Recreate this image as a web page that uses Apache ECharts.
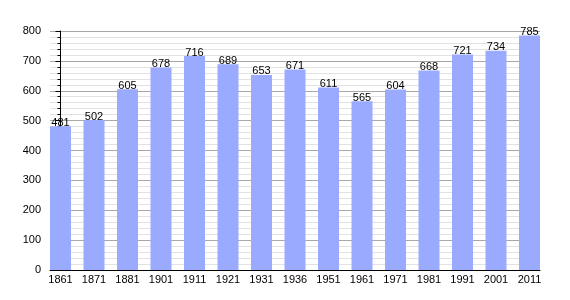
<!DOCTYPE html>
<html>
<head>
<meta charset="utf-8">
<script src="https://cdn.jsdelivr.net/npm/echarts@6/dist/echarts.min.js"></script>
<style>html,body{margin:0;padding:0;background:#fff}#c{width:570px;height:300px}</style>
</head>
<body>
<div id="c"></div>
<script>
const years = ['1861','1871','1881','1901','1911','1921','1931','1936','1951','1961','1971','1981','1991','2001','2011'];
const population = [481,502,605,678,716,689,653,671,611,565,604,668,721,734,785];
const yTicks = [0,100,200,300,400,500,600,700,800];

const chart = echarts.init(document.getElementById('c'), null, {renderer:'canvas'});
const idx = years.map((_, i) => i);
const font = 'Liberation Sans, Arial, sans-serif';
chart.setOption({
  animation: false,
  grid: {left: 50, right: 30, top: 31, bottom: 30},
  xAxis: {
    type: 'value',
    min: -0.3134, max: 14.3134,
    splitLine: {show: false},
    axisTick: {show: false},
    axisLine: {show: true, onZero: false, lineStyle: {color: '#000', width: 1}},
    axisLabel: {
      customValues: idx,
      formatter: v => years[Math.round(v)],
      color: '#000', fontFamily: font, fontSize: 11, margin: 4
    }
  },
  yAxis: {
    type: 'value',
    min: yTicks[0], max: yTicks[yTicks.length-1], interval: 100,
    axisLine: {show: true, lineStyle: {color: '#000', width: 1}},
    axisTick: {show: true, length: 5, lineStyle: {color: '#000'}},
    minorTick: {show: true, splitNumber: 5, length: 3, lineStyle: {color: '#000'}},
    splitLine: {show: true, lineStyle: {color: '#a8a8a8', width: 1}},
    minorSplitLine: {show: true, lineStyle: {color: '#e2e2e2', width: 1}},
    axisLabel: {color: '#000', fontFamily: font, fontSize: 11, margin: 9}
  },
  series: [{
    type: 'bar',
    data: population.map((v, i) => [i, v]),
    barWidth: 21,
    itemStyle: {color: '#99aaff'},
    label: {
      show: true, position: 'top', distance: -2,
      formatter: p => p.value[1],
      color: '#000', fontFamily: font, fontSize: 11
    }
  }]
});
</script>
</body>
</html>
